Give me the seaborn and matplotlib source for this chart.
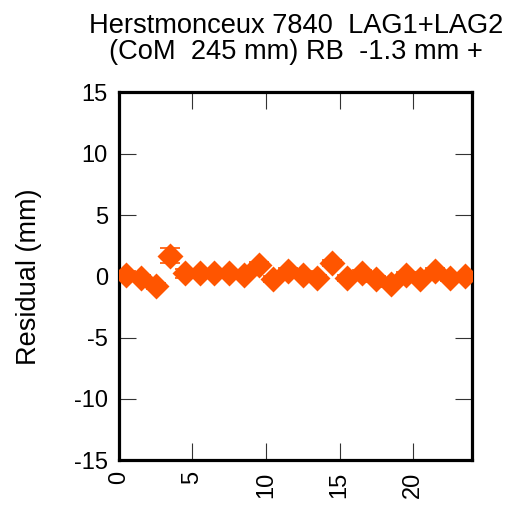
import matplotlib
matplotlib.use("Agg")
import matplotlib.pyplot as plt
import seaborn as sns
import pandas as pd

hours = [0.5, 1.5, 2.5, 3.5, 4.5, 5.5, 6.5, 7.5, 8.5, 9.5, 10.5, 11.5,
         12.5, 13.5, 14.5, 15.5, 16.5, 17.5, 18.5, 19.5, 20.5, 21.5, 22.5, 23.5]
residual = [0.15, -0.1, -0.8, 1.7, 0.25, 0.3, 0.3, 0.3, 0.15, 0.9, -0.2, 0.4,
            0.15, -0.1, 1.1, -0.1, 0.3, -0.25, -0.6, 0.1, -0.2, 0.4, -0.1, 0.0]
error = [0.25, 0.25, 0.25, 0.6, 0.35, 0.25, 0.25, 0.25, 0.25, 0.25, 0.25, 0.25,
         0.25, 0.25, 0.25, 0.25, 0.25, 0.25, 0.25, 0.25, 0.25, 0.25, 0.25, 0.25]
xticks = [0, 5, 10, 15, 20]
yticks = [-15, -10, -5, 0, 5, 10, 15]
title = "Herstmonceux 7840  LAG1+LAG2\n(CoM  245 mm) RB  -1.3 mm +"

df = pd.DataFrame({"hour": hours, "residual": residual, "error": error})

sns.set_theme(style="white")
plt.rcParams["font.family"] = ["Liberation Sans", "DejaVu Sans"]
plt.rcParams["text.color"] = "black"
plt.rcParams["axes.labelcolor"] = "black"
plt.rcParams["xtick.color"] = "black"
plt.rcParams["ytick.color"] = "black"

color = "#ff5500"
fig = plt.figure(figsize=(5.08, 5.08), dpi=100)
ax = fig.add_axes([0.234, 0.094, 0.695, 0.724])

ax.errorbar(df["hour"], df["residual"], yerr=df["error"], fmt="none",
            ecolor=color, elinewidth=1.2, capsize=7, capthick=1.2, zorder=2)
sns.scatterplot(data=df, x="hour", y="residual", marker="D", s=175,
                color=color, edgecolor=color, linewidth=0, ax=ax, zorder=3)

ax.set_xlim(0, 24)
ax.set_ylim(-15, 15)
ax.set_xticks(xticks)
ax.set_yticks(yticks)
ax.set_xticklabels([str(t) for t in xticks], rotation=90, fontsize=17)
ax.set_yticklabels([str(t) for t in yticks], fontsize=17)
ax.set_xlabel("")
ax.set_ylabel("Residual (mm)", fontsize=19.5, labelpad=23)
ax.tick_params(direction="in", length=12, width=0.8, top=True, right=True,
               bottom=True, left=True, color="#333333", pad=8)
for sp in ax.spines.values():
    sp.set_visible(True)
    sp.set_color("black")
    sp.set_linewidth(2.3)

fig.suptitle(title, fontsize=19.6, x=0.582, y=0.975, linespacing=1.0)

fig.savefig("out.png", dpi=100)
